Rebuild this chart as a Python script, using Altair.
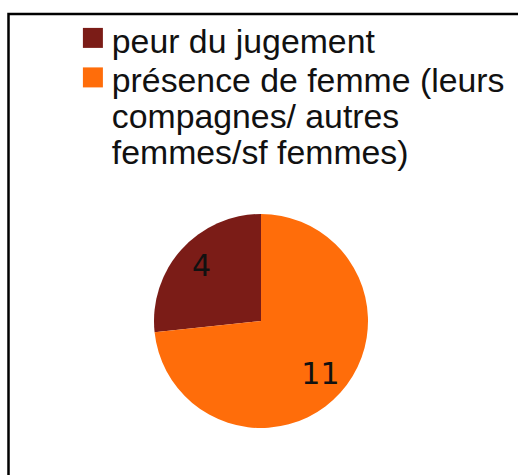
import altair as alt
import pandas as pd

categories = [
    "peur du jugement",
    "présence de femme (leurs\ncompagnes/ autres\nfemmes/sf femmes)",
]
values = [4, 11]
colors = ["#7b1c17", "#ff6d0a"]

df = pd.DataFrame({"categorie": categories, "nombre": values})

W, H = 509.5, 461

base = alt.Chart(df).encode(
    theta=alt.Theta("nombre:Q", stack=True),
    order=alt.Order("categorie:N", sort="descending"),
    x=alt.value(252.5),
    y=alt.value(307),
)

pie = base.mark_arc(outerRadius=107).encode(
    color=alt.Color(
        "categorie:N",
        scale=alt.Scale(domain=categories, range=colors),
        legend=alt.Legend(
            title=None,
            orient="none",
            legendX=67.5,
            legendY=12,
            symbolType="M-1,-1.5H1V0.5H-1Z",
            symbolSize=400,
            symbolStrokeWidth=0,
            symbolOpacity=1,
            labelFont="Liberation Sans",
            labelFontSize=33.8,
            labelColor="#111111",
            labelLimit=1000,
            labelOffset=2,
            labelBaseline="middle",
            rowPadding=4.5,
            padding=0,
            labelExpr="split(datum.label, '\\n')",
        ),
    )
)

labels = base.mark_text(
    radius=80, fontSize=30, font="DejaVu Sans", color="#111111",
    align="center", baseline="middle",
).encode(text="nombre:Q")

chart = (
    alt.layer(pie, labels)
    .properties(
        width=W,
        height=H,
        padding={"left": 8.5, "top": 14, "right": 0, "bottom": 0},
        autosize="none",
        background="white",
    )
    .configure_view(
        stroke="black",
        strokeWidth=2.5,
        strokeDash=[W, W + H, H, 0],
        strokeCap="square",
    )
)

chart.save("out.html", embed_options={"renderer": "svg", "actions": False})
